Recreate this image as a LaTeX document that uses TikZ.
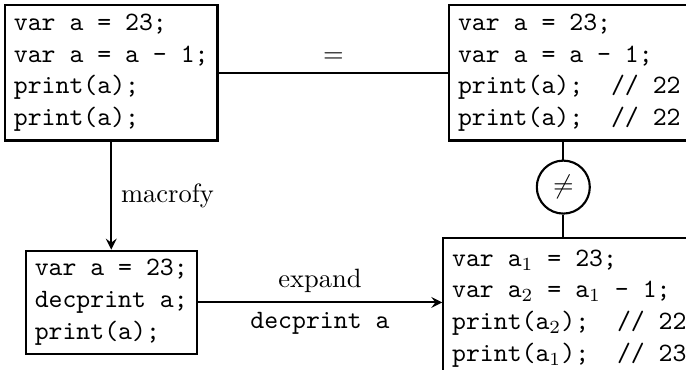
\documentclass[tikz,border=0pt]{standalone}
\usetikzlibrary{arrows, positioning}
\tikzstyle{code} = [rectangle, draw=black, thick, align=left, font=\ttfamily]
\tikzstyle{rel} = [circle, draw=black, thick, minimum size=20pt, inner sep=0pt]
\tikzstyle{arrow} = [thick,->,>=stealth]
\tikzstyle{link} = [thick]

\begin{document}
\begin{tikzpicture}
        \useasboundingbox (0,0) rectangle (9.10,-4.90);

        \node (orig) [code, anchor=north west] at (0.053,-0.053) {var a = 23;\\var a = a - 1;\\print(a);\\print(a);};
        \node (js) [code, anchor=north west] at (5.945,-0.053) {var a = 23;\\var a = a - 1;\\print(a);~~// 22\\print(a);~~// 22};
        \node (macro) [code, below=1.433cm of orig] {var a = 23;\\decprint a;\\print(a);};
        \node (neq) [rel, below=0.239cm of js, xshift=-0.08cm] {$\neq$};
        \node (expanded) [code, inner ysep=4.5pt, below=0.292cm of neq, xshift=0.08cm] {var a$_1$ = 23;\\var a$_2$ = a$_1$ - 1;\\print(a$_2$);~~// 22\\print(a$_1$);~~// 23};

        \draw [link] (orig.east) -- node[above] {$=$} (orig.east -| js.west);
        \draw [arrow] (orig) -- node[right] {macrofy} (macro);
        \draw [link] (neq) -- (neq |- js.south);
        \draw [link] (neq) -- (neq |- expanded.north);
        \draw [arrow] (macro.east) -- node[above] {expand} node[below, font=\ttfamily] {decprint a} (macro.east -| expanded.west);
    \end{tikzpicture}
\end{document}
